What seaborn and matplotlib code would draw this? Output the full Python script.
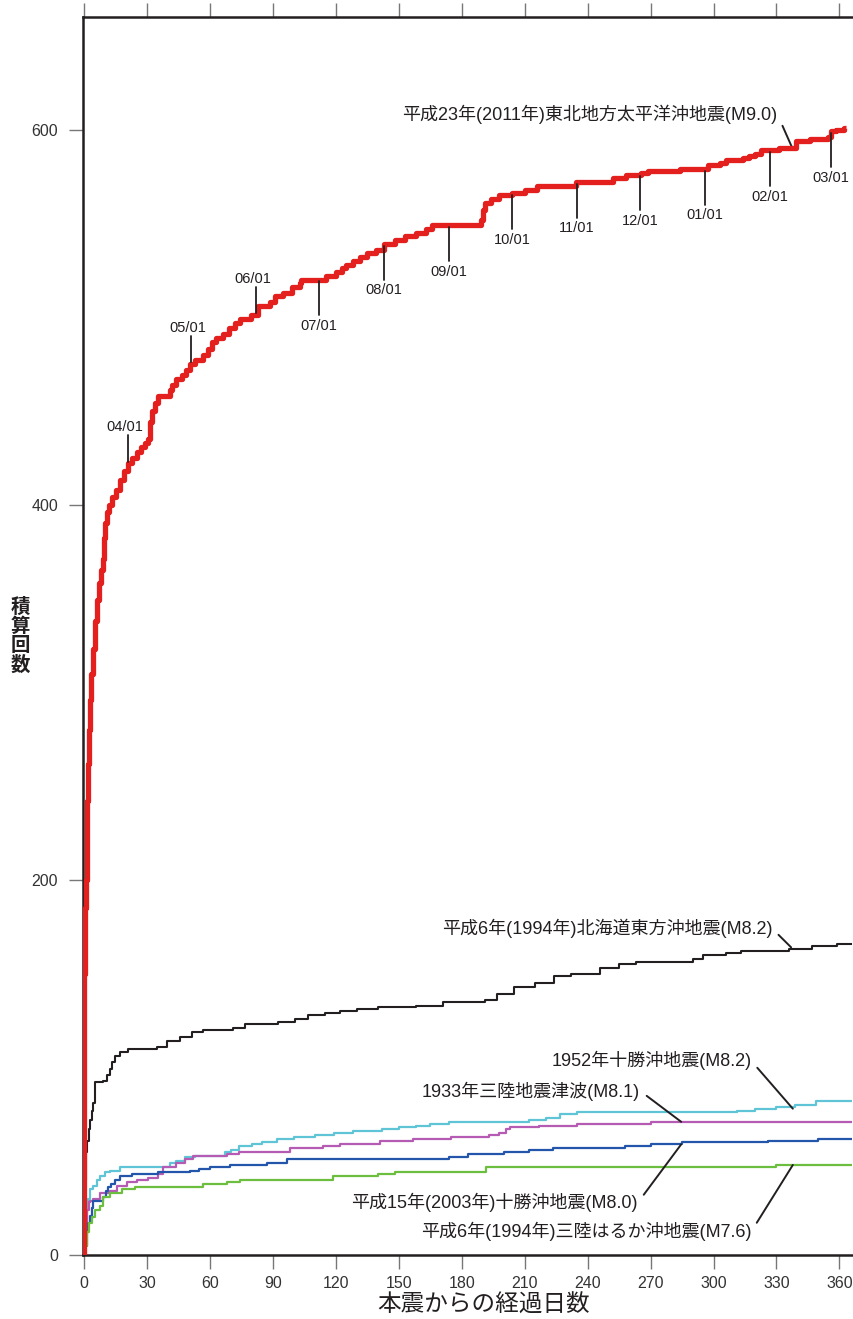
import numpy as np
import matplotlib
matplotlib.use("Agg")
import matplotlib.pyplot as plt
import seaborn as sns

# cumulative aftershock counts (day since mainshock, count)
red_day = [0, 0.02, 0.05, 0.1, 0.2, 0.4, 0.6, 0.9, 1.2, 1.5, 1.9, 2.4, 2.9, 3.5, 4.3, 5.0, 6.0, 7.0,
           8.0, 9.0, 9.6, 10.2, 11, 12, 13.5, 15, 17, 19, 21, 23, 25, 27, 29, 30.6, 31.4, 32.5, 33.8,
           35.4, 41, 41.7, 44, 46.5, 48.5, 50.5, 53, 56.8, 59, 60.8, 63, 66.3, 69, 72, 74.3, 79.8, 83,
           88.6, 91, 94.9, 99, 102.9, 103.6, 115.5, 120.3, 123, 125, 128, 131.4, 135, 139, 143, 148,
           153, 158, 163, 166, 189, 190, 191, 194, 198, 204, 210, 216, 234.6, 252, 258.4, 265.5,
           268.7, 283.8, 297.3, 302.9, 306, 314, 317, 320, 322.7, 331.4, 339.4, 346, 354.4, 356,
           358.4, 362.4, 363]
red_cnt = [0, 40, 80, 120, 150, 170, 185, 200, 222, 242, 262, 280, 296, 310, 323, 338, 349, 358,
           365, 371, 382, 390, 396, 400, 404, 408, 413, 418, 422, 425, 428, 431, 433, 435, 444, 450, 454,
           458, 461, 464, 467, 469, 472, 475, 477, 480, 483, 487, 489, 491, 494, 497, 499, 501, 506,
           508, 511, 513, 516, 518, 520, 522, 524, 526, 528, 530, 532, 534, 536, 539, 541,
           543, 545, 547, 549, 552, 557, 561, 563, 565, 566, 568, 570, 572, 574, 576, 577,
           578, 579, 581, 582, 584, 585, 586, 587, 589, 590, 594, 595, 596, 599,
           600, 601, 601]

black_day = [0, 0.2, 0.5, 0.8, 1.3, 2.2, 2.9, 3.6, 4.4, 5.2, 9.2, 11, 12.4, 13.5, 14.8, 17.1, 21.1,
             34.6, 39.4, 45.7, 51.3, 56.8, 71, 76.7, 92.5, 100.5, 106.8, 115, 122, 130, 140, 158,
             171, 191, 197, 205, 215, 224, 232, 246, 255, 263, 290, 295, 306, 313, 336, 347, 359, 366]
black_cnt = [0, 20, 40, 55, 61, 67, 72, 77, 81, 92, 93, 96, 99, 103, 106, 108, 110,
             111, 114, 116, 119, 120, 121, 123, 124, 126, 128, 129, 130, 131, 132, 133,
             135, 136, 139, 143, 145, 149, 150, 153, 155, 156, 158, 160, 161, 162, 163, 165, 166, 166]

cyan_day = [0, 0.3, 0.8, 1.3, 2, 2.9, 4.4, 6, 7.6, 10, 12.4, 17, 41, 44, 48, 53, 67, 70, 74, 80, 85,
            92, 100, 110, 119, 128, 142, 150, 158, 165, 174, 212, 220, 227, 235, 311, 320, 330, 339,
            349, 366]
cyan_cnt = [0, 8, 18, 25, 30, 35, 37, 40, 42, 44, 45, 47, 49, 50, 52, 53, 55, 56, 58, 59, 60,
            62, 63, 64, 65, 66, 67, 68, 69, 70, 71, 72, 73, 75, 76, 77, 78, 79, 80,
            82, 82]

magenta_day = [0, 0.5, 1, 1.5, 2.2, 2.9, 4.4, 7.6, 12.4, 15.6, 20.3, 25, 30.6, 35.4, 37.8, 44, 48,
               52, 68, 74, 98, 114, 122, 141, 157, 175, 193, 198, 201, 203, 217, 235, 270, 366]
magenta_cnt = [0, 10, 18, 24, 28, 29, 30, 33, 34, 37, 39, 40, 41, 43, 47, 49, 51,
               53, 54, 55, 57, 58, 59, 61, 62, 63, 64, 65, 67, 68, 69, 70, 71, 71]

blue_day = [0, 0.5, 1.3, 2, 2.9, 3.6, 4.4, 9.2, 10.5, 11.6, 13, 14.8, 17.1, 22.7, 35.4, 50.5, 55, 60,
            69.5, 87, 96.5, 174, 183, 200, 212, 223.5, 258, 270, 285, 326, 350, 366]
blue_cnt = [0, 5, 12, 17, 21, 25, 29, 31, 34, 36, 38, 40, 42, 43, 44, 45, 46, 47,
            48, 49, 51, 52, 54, 55, 56, 57, 58, 59, 60, 61, 62, 62]

green_day = [0, 0.5, 1.3, 2.5, 3.7, 5.2, 7.6, 9.2, 12.4, 18, 24.3, 56.8, 68, 74.3, 118.7, 140, 148,
             191.7, 330, 366]
green_cnt = [0, 5, 12, 17, 20, 24, 26, 31, 33, 35, 36, 38, 39, 40, 42, 43, 44,
             47, 48, 48]

labels = ["平成23年(2011年)東北地方太平洋沖地震(M9.0)",
          "平成6年(1994年)北海道東方沖地震(M8.2)",
          "1952年十勝沖地震(M8.2)",
          "1933年三陸地震津波(M8.1)",
          "平成15年(2003年)十勝沖地震(M8.0)",
          "平成6年(1994年)三陸はるか沖地震(M7.6)"]
colors = ["#e4201f", "#231f20", "#5ec4d6", "#b65bb4", "#2356aa", "#6cbf3e"]
widths = [3.8, 1.5, 1.6, 1.6, 1.6, 1.6]
days = [red_day, black_day, cyan_day, magenta_day, blue_day, green_day]
counts = [red_cnt, black_cnt, cyan_cnt, magenta_cnt, blue_cnt, green_cnt]
# label text anchor (right end) and leader end point
label_xy = [(330.5, 608), (328, 174), (318, 103.5), (265, 87.5), (264, 28), (318, 12.5)]
leader_xy = [(337.8, 589.5), (337, 164), (337.8, 78), (284.6, 71), (284.6, 59), (337.8, 48)]

month_names = ["04/01", "05/01", "06/01", "07/01", "08/01", "09/01", "10/01", "11/01",
               "12/01", "01/01", "02/01", "03/01"]
month_days = [21, 51, 82, 112, 143, 174, 204, 235, 265, 296, 327, 356]
month_up = [True, True, True, False, False, False, False, False, False, False, False, False]

x_ticks = list(range(0, 361, 30))
y_ticks = [0, 200, 400, 600]

sns.set_theme(style="white")
plt.rcParams["font.family"] = ["Liberation Sans", "Noto Sans CJK JP", "DejaVu Sans"]
plt.rcParams["path.simplify"] = False

fig = plt.figure(figsize=(8.54, 13.19), dpi=100)
ax = fig.add_axes([83 / 854, 64 / 1319, (852 - 83) / 854, (1255 - 17) / 1319])

order = [2, 3, 4, 5, 1, 0]
for i in order:
    sns.lineplot(x=days[i], y=counts[i], ax=ax, color=colors[i], linewidth=widths[i],
                 drawstyle="steps-post", estimator=None, sort=False,
                 solid_joinstyle="round", solid_capstyle="butt", zorder=3 + (i == 0))

for i in range(len(labels)):
    ax.annotate(labels[i], xy=leader_xy[i], xytext=label_xy[i], ha="right", va="center",
                fontsize=13, color="#231f20",
                arrowprops=dict(arrowstyle="-", color="#231f20", lw=1.4,
                                relpos=(1, 0.5), shrinkA=3, shrinkB=0))

rd = np.array(red_day)
rc = np.array(red_cnt)
for name, d, up in zip(month_names, month_days, month_up):
    v = rc[np.searchsorted(rd, d, side="right") - 1]
    if up:
        ax.plot([d, d], [v + 1, v + 15], color="#231f20", lw=1.3, zorder=6)
        ax.text(d - 1.5, v + 15.5, name, ha="center", va="bottom", fontsize=10.5, color="#231f20")
    else:
        ax.plot([d, d], [v - 1, v - 19], color="#231f20", lw=1.3, zorder=6)
        ax.text(d, v - 21, name, ha="center", va="top", fontsize=10.5, color="#231f20")

ax.set_xlim(-0.5, 366)
ax.set_ylim(0, 660)
ax.set_xticks(x_ticks)
ax.set_yticks(y_ticks)
ax.set_xlabel("")
ax.set_ylabel("")
ax.tick_params(axis="x", which="major", bottom=True, top=True, direction="out", length=10,
               width=1, color="#777777", labelsize=11.5, labelcolor="#333333", pad=5)
ax.tick_params(axis="y", which="major", left=True, direction="out", length=10, width=1,
               color="#777777", labelsize=11.5, labelcolor="#333333", pad=8)
ax.spines["right"].set_visible(False)
for s in ["left", "top", "bottom"]:
    ax.spines[s].set_color("#231f20")
    ax.spines[s].set_linewidth(1.8)

fig.text(484 / 854, 1 - 1306 / 1319, "本震からの経過日数", ha="center", va="center",
         fontsize=17, color="#231f20")
fig.text(20 / 854, 1 - 636 / 1319, "積\n算\n回\n数", ha="center", va="center",
         fontsize=14, color="#231f20", weight="bold", linespacing=1.05)

fig.savefig("out.png", dpi=100)
